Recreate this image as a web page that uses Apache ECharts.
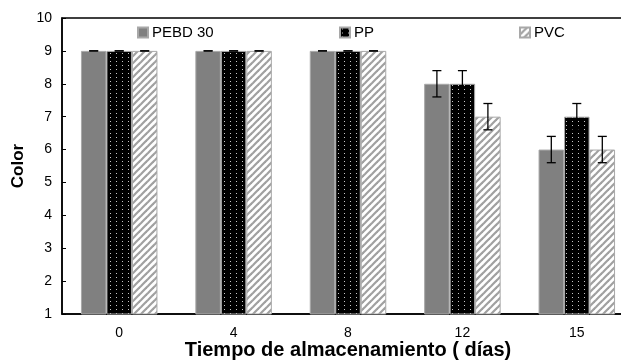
<!DOCTYPE html>
<html>
<head>
<meta charset="utf-8">
<script src="https://cdn.jsdelivr.net/npm/echarts@6/dist/echarts.min.js"></script>
<style>html,body{margin:0;padding:0;background:#fff;overflow:hidden;}#c{width:640px;height:360px;}</style>
</head>
<body>
<div id="c"></div>
<script>
var categories = ['0', '4', '8', '12', '15'];
var pebd = [9, 9, 9, 8, 6];
var pp = [9, 9, 9, 8, 7];
var pvc = [9, 9, 9, 7, 6];
var pebdErr = [0, 0, 0, 0.4, 0.4];
var ppErr = [0, 0, 0, 0.4, 0.4];
var pvcErr = [0, 0, 0, 0.4, 0.4];
var seriesNames = ['PEBD 30', 'PP', 'PVC'];
var yTicks = [1, 2, 3, 4, 5, 6, 7, 8, 9, 10];

function dotPattern() {
  var c = document.createElement('canvas');
  c.width = 6; c.height = 4;
  var g = c.getContext('2d');
  g.fillStyle = '#000'; g.fillRect(0, 0, 6, 4);
  g.fillStyle = '#c8c8c8'; g.fillRect(2, 1, 1, 1);
  return c;
}
function hatchPattern() {
  var s = 7;
  var c = document.createElement('canvas');
  c.width = s; c.height = s;
  var g = c.getContext('2d');
  g.fillStyle = '#fff'; g.fillRect(0, 0, s, s);
  g.strokeStyle = '#a0a0a0'; g.lineWidth = 2.2;
  for (var k = -1; k <= 1; k++) {
    g.beginPath();
    g.moveTo(k * s - 1, s + 1);
    g.lineTo(k * s + s + 1, -1);
    g.stroke();
  }
  return c;
}
var ppFill = { image: dotPattern(), repeat: 'repeat' };
var pvcFill = { image: hatchPattern(), repeat: 'repeat' };

var chart = echarts.init(document.getElementById('c'));
var FONT = 'Liberation Sans, Arial, sans-serif';
var BAR_W = 25.5;

function errSeries(vals, errs, idx) {
  return {
    type: 'custom',
    name: seriesNames[idx] + ' err',
    z: 10,
    silent: true,
    data: vals.map(function (v, i) { return [i, v - errs[i], v + errs[i]]; }),
    renderItem: function (params, api) {
      var i = api.value(0);
      var lo = api.coord([i, api.value(1)]);
      var hi = api.coord([i, api.value(2)]);
      var x = lo[0] + (idx - 1) * BAR_W;
      var half = 4.5;
      var st = { stroke: '#000', lineWidth: 1.3 };
      return {
        type: 'group',
        children: [
          { type: 'line', shape: { x1: x, y1: lo[1], x2: x, y2: hi[1] }, style: st },
          { type: 'line', shape: { x1: x - half, y1: lo[1], x2: x + half, y2: lo[1] }, style: st },
          { type: 'line', shape: { x1: x - half, y1: hi[1], x2: x + half, y2: hi[1] }, style: st }
        ]
      };
    }
  };
}

var legendBase = {
  top: 20, itemWidth: 10, itemHeight: 10, itemGap: 0, icon: 'rect',
  textStyle: { fontFamily: FONT, fontSize: 15, color: '#000', padding: [0, 0, 0, -1] },
  selectedMode: false
};

chart.setOption({
  animation: false,
  textStyle: { fontFamily: FONT },
  grid: { left: 62, top: 18, width: 572, height: 296, show: true, borderColor: '#000', borderWidth: 1.5,
    backgroundColor: 'transparent', containLabel: false, outerBoundsMode: 'none' },
  legend: [
    Object.assign({}, legendBase, { left: 132, data: [seriesNames[0]] }),
    Object.assign({}, legendBase, { left: 334, data: [seriesNames[1]] }),
    Object.assign({}, legendBase, { left: 514, data: [seriesNames[2]] })
  ],
  xAxis: {
    type: 'category',
    data: categories,
    boundaryGap: true,
    axisLine: { lineStyle: { color: '#000', width: 1.5 } },
    axisTick: { inside: true, length: 4, lineStyle: { color: '#000' } },
    axisLabel: { color: '#000', fontSize: 14, margin: 12, fontFamily: FONT },
    name: 'Tiempo de almacenamiento ( días)',
    nameLocation: 'middle',
    nameGap: 26,
    nameMoveOverlap: false,
    nameTextStyle: { fontWeight: 'bold', fontSize: 20, color: '#000', fontFamily: FONT }
  },
  yAxis: {
    type: 'value',
    min: 1, max: 10, interval: 1,
    splitLine: { show: false },
    axisLine: { show: true, lineStyle: { color: '#000', width: 1.5 } },
    axisTick: { show: true, inside: true, length: 4, lineStyle: { color: '#000' } },
    axisLabel: { color: '#000', fontSize: 14, margin: 10, fontFamily: FONT,
      formatter: function (v) { return yTicks.indexOf(v) >= 0 ? String(v) : ''; } },
    name: 'Color',
    nameLocation: 'middle',
    nameGap: 35,
    nameMoveOverlap: false,
    nameTextStyle: { fontWeight: 'bold', fontSize: 17, color: '#000', fontFamily: FONT }
  },
  series: [
    { type: 'bar', name: seriesNames[0], data: pebd, barWidth: BAR_W, barGap: '0%',
      itemStyle: { color: '#808080', borderColor: '#a8a8a8', borderWidth: 1 } },
    { type: 'bar', name: seriesNames[1], data: pp, barWidth: BAR_W, barGap: '0%',
      itemStyle: { color: ppFill, borderColor: '#a8a8a8', borderWidth: 1 } },
    { type: 'bar', name: seriesNames[2], data: pvc, barWidth: BAR_W, barGap: '0%',
      itemStyle: { color: pvcFill, borderColor: '#a8a8a8', borderWidth: 1 } },
    errSeries(pebd, pebdErr, 0),
    errSeries(pp, ppErr, 1),
    errSeries(pvc, pvcErr, 2)
  ]
});
</script>
</body>
</html>
